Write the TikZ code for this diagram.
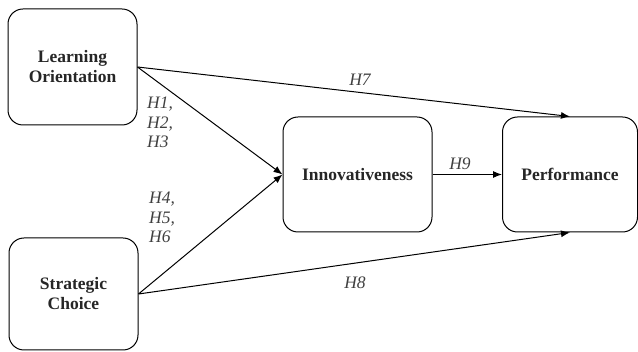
\documentclass[tikz,border=0pt]{standalone}
\usepackage{fontspec}
\setmainfont{Liberation Serif}
\usetikzlibrary{arrows.meta}

\begin{document}
\begin{tikzpicture}[x=1pt, y=-1pt,
        construct/.style={draw, line width=1pt, rounded corners=15pt, align=center,
            font=\fontsize{17.5}{20}\selectfont\bfseries, text=black!85},
        hyp/.style={font=\fontsize{17.5}{19.5}\selectfont\itshape, text=black!75, align=left, inner sep=0pt},
        path/.style={line width=1pt, -{Latex[length=9pt, width=7pt]}}]
    \useasboundingbox (0,0) rectangle (638,352);
    \node [construct, minimum width=129pt, minimum height=116pt] (learn) at (72.5,67) {Learning\\Orientation};
    \node [construct, minimum width=129pt, minimum height=112pt] (choice) at (73.5,294) {Strategic\\Choice};
    \node [construct, minimum width=149pt, minimum height=115pt] (innov) at (357.5,174.5) {Innovativeness};
    \node [construct, minimum width=135pt, minimum height=115pt] (perf) at (570,174.5) {Performance};
    \draw [path] (learn.east) -- (innov.west);
    \draw [path] (choice.east) -- (innov.west);
    \draw [path] (learn.east) -- (perf.north);
    \draw [path] (choice.east) -- (perf.south);
    \draw [path] (innov.east) -- (perf.west);
    \node [hyp, anchor=north west] (h123) at (147,97) {H1,\\H2,\\H3};
    \node [hyp, anchor=north west] (h456) at (149,192) {H4,\\H5,\\H6};
    \node [hyp] (h7) at (360,80) {H7};
    \node [hyp] (h8) at (355,283) {H8};
    \node [hyp] (h9) at (460,164) {H9};
\end{tikzpicture}
\end{document}
